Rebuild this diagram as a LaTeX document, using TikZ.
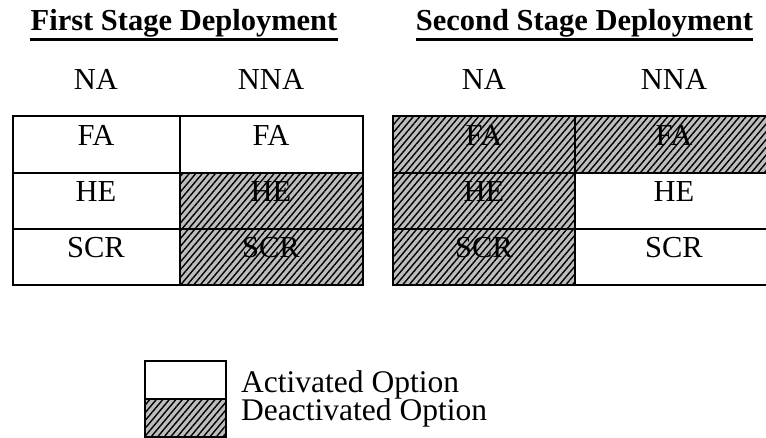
\documentclass[tikz,border=0pt]{standalone}
\usepackage{fontspec}
\setmainfont{Liberation Serif}
\usetikzlibrary{patterns.meta}
\begin{document}
\begin{tikzpicture}[x=1pt,y=-1pt,
  txt/.style={inner sep=0pt,anchor=base,font=\fontsize{30.5}{36}\selectfont},
  lgd/.style={inner sep=0pt,anchor=base west,font=\fontsize{31.5}{36}\selectfont},
  ttl/.style={inner sep=0pt,anchor=base,font=\fontsize{30.5}{36}\selectfont\bfseries},
  uline/.style={line width=3pt},
  grid/.style={line width=2pt},
  hatched/.style={fill=black!26,
    postaction={pattern={Lines[angle=50,distance=5pt,line width=1.4pt]},pattern color=black}}]
\useasboundingbox (0,0) rectangle (766,438);
\clip (0,0) rectangle (766,438);

% titles
\node[ttl] (t1) at (184,31) {First Stage Deployment};
\node[ttl] (t2) at (584.5,31) {Second Stage Deployment};
\draw[uline] ([yshift=-9pt]t1.base west) -- ([yshift=-9pt]t1.base east);
\draw[uline] ([yshift=-9pt]t2.base west) -- ([yshift=-9pt]t2.base east);

% column headers
\node[txt] (h1) at (96,89.3) {NA};
\node[txt] (h2) at (271,89.3) {NNA};
\node[txt] (h3) at (484,89.3) {NA};
\node[txt] (h4) at (674,89.3) {NNA};

% deactivated cells
\path[hatched] (180,172.7) rectangle (363,285.5);
\path[hatched] (392.5,116) rectangle (575,285.5);
\path[hatched] (575,116) rectangle (773,172.7);

% first table grid
\draw[grid] (13,116) rectangle (363,285.5);
\draw[grid] (180,116) -- (180,285.5);
\draw[grid] (13,172.7) -- (363,172.7);
\draw[grid] (13,229) -- (363,229);

% second table grid
\draw[grid] (392.5,116) rectangle (773,285.5);
\draw[grid] (575,116) -- (575,285.5);
\draw[grid] (392.5,172.7) -- (773,172.7);
\draw[grid] (392.5,229) -- (773,229);

% cell labels, first table
\node[txt] (a1) at (96,146) {FA};
\node[txt] (a2) at (96,201.7) {HE};
\node[txt] (a3) at (96,258) {SCR};
\node[txt] (b1) at (271,146) {FA};
\node[txt] (b2) at (271,201.7) {HE};
\node[txt] (b3) at (271,258) {SCR};

% cell labels, second table
\node[txt] (c1) at (484,146) {FA};
\node[txt] (c2) at (484,201.7) {HE};
\node[txt] (c3) at (484,258) {SCR};
\node[txt] (d1) at (674,146) {FA};
\node[txt] (d2) at (674,201.7) {HE};
\node[txt] (d3) at (674,258) {SCR};

% legend
\path[hatched] (145,399) rectangle (226,437);
\draw[grid] (145,361) rectangle (226,437);
\draw[grid] (145,399) -- (226,399);
\node[lgd] (l1) at (241,392) {Activated Option};
\node[lgd] (l2) at (241,420.5) {Deactivated Option};
\end{tikzpicture}
\end{document}
